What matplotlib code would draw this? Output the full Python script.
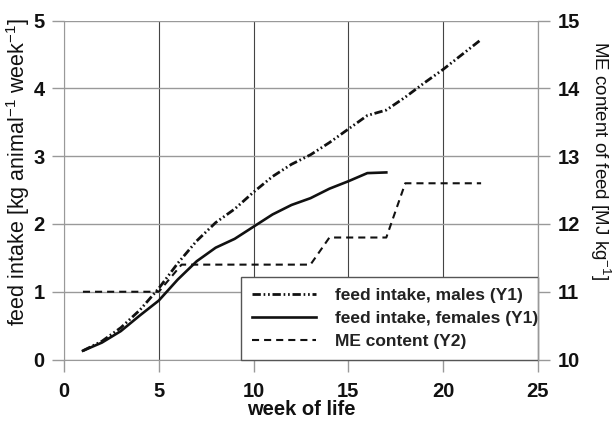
import matplotlib
matplotlib.use("Agg")
import matplotlib.pyplot as plt

plt.rcParams['font.family'] = ['Liberation Sans', 'DejaVu Sans']
plt.rcParams['mathtext.default'] = 'regular'

# feed intake (kg / animal / week)
weeks_m = [1, 2, 3, 4, 5, 6, 7, 8, 9, 10, 11, 12, 13, 14, 15, 16, 17, 18, 19, 20, 21, 22]
males = [0.13, 0.27, 0.47, 0.73, 1.05, 1.42, 1.75, 2.02, 2.22, 2.47, 2.7, 2.88, 3.02, 3.2, 3.4, 3.6, 3.68, 3.87, 4.08, 4.28, 4.5, 4.72]
weeks_f = [1, 2, 3, 4, 5, 6, 7, 8, 9, 10, 11, 12, 13, 14, 15, 16, 17]
females = [0.13, 0.25, 0.42, 0.65, 0.87, 1.18, 1.45, 1.65, 1.78, 1.96, 2.14, 2.28, 2.38, 2.52, 2.63, 2.75, 2.76]
# ME content (MJ / kg)
weeks_me = [1, 5, 6.2, 13, 14, 17, 18, 22]
me_content = [11.0, 11.0, 11.4, 11.4, 11.8, 11.8, 12.6, 12.6]

fig = plt.figure(figsize=(6.14, 4.23), dpi=100)
ax = fig.add_axes([0.1042, 0.150, 0.772, 0.8014])
ax2 = ax.twinx()

l1, = ax.plot(weeks_m, males, color='#111111', lw=2.0, dashes=(3, 1, 0.6, 1, 0.6, 1))
l2, = ax.plot(weeks_f, females, color='#111111', lw=1.9)
l3, = ax2.plot(weeks_me, me_content, color='#111111', lw=1.5, dashes=(3.4, 2.4))

ax.set_xlim(0, 25)
ax.set_ylim(0, 5)
ax2.set_ylim(10, 15)
ax.set_xticks([0, 5, 10, 15, 20, 25])
ax.set_yticks([0, 1, 2, 3, 4, 5])
ax2.set_yticks([10, 11, 12, 13, 14, 15])

ax.grid(axis='y', color='#999999', lw=1.0)
ax.grid(axis='x', color='#444444', lw=0.8)
ax.set_axisbelow(True)
for a in (ax, ax2):
    for s in a.spines.values():
        s.set_color('#999999')
    a.spines['top'].set_visible(False)
ax2.spines['left'].set_visible(False)
ax2.spines['bottom'].set_visible(False)

ax.tick_params(axis='both', labelsize=14.5, length=8.6, color='#999999', width=1, pad=5.5)
ax.tick_params(axis='x', pad=7.5)
ax2.tick_params(axis='y', labelsize=14.5, length=8.6, color='#999999', width=1, pad=5.5)
for lab in ax.get_xticklabels() + ax.get_yticklabels() + ax2.get_yticklabels():
    lab.set_fontweight('bold')
    lab.set_color('#111111')

ax.set_xlabel('week of life', fontsize=14.5, fontweight='bold', color='#111111')
ax.xaxis.set_label_coords(0.5, -0.118)
ax.set_ylabel('feed intake [kg animal$^{-1}$ week$^{-1}$]', fontsize=15.5, color='#111111')
ax.yaxis.set_label_coords(-0.067, 0.553)
ax2.set_ylabel('ME content of feed [MJ kg$^{-1}$]', fontsize=13.5, color='#111111',
               rotation=-90, va='bottom')
ax2.yaxis.set_label_coords(1.105, 0.586)

leg = ax.legend([l1, l2, l3], ['feed intake, males (Y1)', 'feed intake, females (Y1)', 'ME content (Y2)'],
                loc='lower left', bbox_to_anchor=(0.3734, 0.0, 0.6266, 0.245), mode='expand',
                borderaxespad=0, fontsize=12.5, fancybox=False, framealpha=1,
                edgecolor='#555555', handlelength=3.7, handletextpad=1.1,
                borderpad=0.62, labelspacing=0.45)
leg.get_frame().set_linewidth(1.0)
for t in leg.get_texts():
    t.set_fontweight('bold')
    t.set_color('#222222')
leg.set_zorder(5)

fig.savefig('out.png', dpi=100)
